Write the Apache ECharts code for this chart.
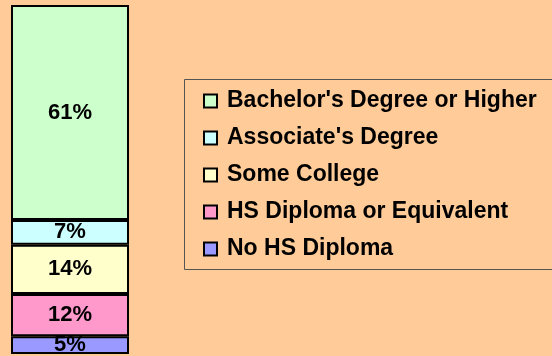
<!DOCTYPE html>
<html>
<head>
<meta charset="utf-8">
<script src="https://cdn.jsdelivr.net/npm/echarts@6/dist/echarts.min.js"></script>
<style>
html, body { margin: 0; padding: 0; background: #FFCC99; }
#mainCanvas { width: 552px; height: 356px; }
</style>
</head>
<body>
<div id="mainCanvas"></div>
<script>
var myChart = echarts.init(document.getElementById("mainCanvas"));

// stack order bottom -> top
var names = ["No HS Diploma", "HS Diploma or Equivalent", "Some College", "Associate's Degree", "Bachelor's Degree or Higher"];
var values = [5, 12, 14, 7, 61];
var colors = ["#9999FF", "#FF99CC", "#FFFFCC", "#CCFFFF", "#CCFFCC"];
var categories = ["All"];

var total = 0;
for (var v of values) { total += v; }

var series = [];
for (var i = 0; i < names.length; i++) {
    series.push({
        name: names[i],
        type: 'bar',
        stack: 'edu',
        barWidth: 118,
        data: [values[i]],
        itemStyle: { color: colors[i], borderColor: '#000', borderWidth: 2 },
        label: {
            show: true,
            position: 'inside',
            formatter: '{c}%',
            color: '#000',
            fontFamily: 'Liberation Sans, Arial, sans-serif',
            fontWeight: 'bold',
            fontSize: 22
        }
    });
}

var option = {
    backgroundColor: '#FFCC99',
    animation: false,
    grid: { left: 11, right: 423, top: 5, bottom: 2 },
    xAxis: { type: 'category', data: categories, show: false },
    yAxis: { type: 'value', min: 0, max: total, show: false },
    legend: {
        orient: 'vertical',
        left: 198,
        top: 84,
        data: names.slice().reverse(),
        icon: 'rect',
        itemWidth: 13,
        itemHeight: 13,
        itemGap: 13,
        textStyle: {
            color: '#000',
            fontFamily: 'Liberation Sans, Arial, sans-serif',
            fontWeight: 'bold',
            fontSize: 23,
            lineHeight: 24,
            padding: [0, 0, 0, 5]
        }
    },
    graphic: [{
        type: 'rect',
        shape: { x: 184.5, y: 79.5, width: 400, height: 190 },
        style: { fill: 'none', stroke: '#555', lineWidth: 1 }
    }],
    series: series
};

myChart.setOption(option);
</script>
</body>
</html>
